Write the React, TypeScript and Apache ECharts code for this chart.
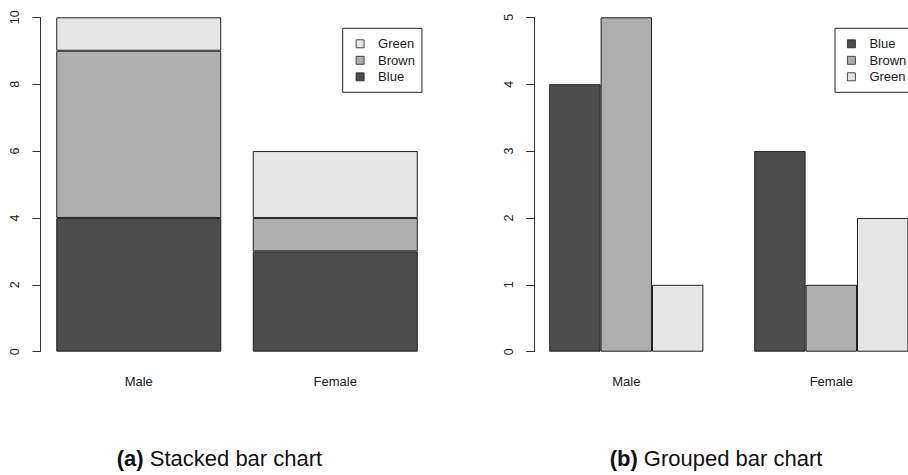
import React, { useEffect, useRef } from "react";
import * as echarts from "echarts";

// Eye colour by sex
const categories = ["Male", "Female"];
const blue = [4, 3];
const brown = [5, 1];
const green = [1, 2];

const stackedTicks = [0, 2, 4, 6, 8, 10];
const groupedTicks = [0, 1, 2, 3, 4, 5];

const colors = { Blue: "#4D4D4D", Brown: "#AEAEAE", Green: "#E6E6E6" };

const FONT = "Liberation Sans, Arial, sans-serif";

// The drawing surface is wider than the visible frame so the right-hand
// panel can run past the edge, as it does on the printed page.
const VIEW_W = 908;
const VIEW_H = 475;
const CANVAS_W = 960;

export default function App() {
  const ref = useRef<HTMLDivElement>(null);

  useEffect(() => {
    if (!ref.current) return;
    const chart = echarts.init(ref.current, null, { renderer: "svg" });

    const barStyle = (name: keyof typeof colors) => ({
      color: colors[name],
      borderColor: "#222",
      borderWidth: 1,
    });

    const yAxisCommon = (max: number, interval: number) => ({
      type: "value" as const,
      min: 0,
      max,
      interval,
      splitLine: { show: false },
      axisLine: { show: true, lineStyle: { color: "#333", width: 1 } },
      axisTick: { show: true, length: 8, lineStyle: { color: "#333" } },
      axisLabel: {
        rotate: 90,
        margin: 19,
        fontSize: 12.5,
        color: "#222",
        fontFamily: FONT,
      },
    });

    const xAxisCommon = {
      type: "category" as const,
      data: categories,
      axisLine: { show: false },
      axisTick: { show: false },
      axisLabel: { margin: 23, fontSize: 13, color: "#222", fontFamily: FONT },
    };

    const legendCommon = {
      orient: "vertical" as const,
      borderColor: "#222",
      borderWidth: 1,
      borderRadius: 0,
      itemWidth: 8,
      itemHeight: 8,
      itemGap: 2.5,
      icon: "rect",
      itemStyle: { borderColor: "#222", borderWidth: 0.8 },
      textStyle: {
        fontSize: 13,
        lineHeight: 14,
        color: "#222",
        fontFamily: FONT,
        padding: [0, 0, 0, 9],
      },
      selectedMode: false,
    };

    chart.setOption({
      animation: false,
      grid: [
        { left: 40.5, top: 17.3, width: 393, height: 334.4 },
        { left: 523.8, top: 17.3, width: 410, height: 334.4 },
      ],
      xAxis: [
        { ...xAxisCommon, gridIndex: 0 },
        { ...xAxisCommon, gridIndex: 1 },
      ],
      yAxis: [
        {
          ...yAxisCommon(stackedTicks[stackedTicks.length - 1], stackedTicks[1] - stackedTicks[0]),
          gridIndex: 0,
        },
        {
          ...yAxisCommon(groupedTicks[groupedTicks.length - 1], groupedTicks[1] - groupedTicks[0]),
          gridIndex: 1,
          offset: -10.5,
        },
      ],
      legend: [
        {
          ...legendCommon,
          left: 342.7,
          top: 28.3,
          padding: [8.5, 7, 8.5, 13],
          data: ["Green", "Brown", "Blue"],
        },
        {
          ...legendCommon,
          left: 835,
          top: 28.3,
          padding: [8.5, 6, 8.5, 12],
          data: ["Blue", "Brown", "Green"],
        },
      ],
      series: [
        // (a) stacked
        { name: "Blue", type: "bar", xAxisIndex: 0, yAxisIndex: 0, stack: "eyes", barWidth: 165, data: blue, itemStyle: barStyle("Blue") },
        { name: "Brown", type: "bar", xAxisIndex: 0, yAxisIndex: 0, stack: "eyes", barWidth: 165, data: brown, itemStyle: barStyle("Brown") },
        { name: "Green", type: "bar", xAxisIndex: 0, yAxisIndex: 0, stack: "eyes", barWidth: 165, data: green, itemStyle: barStyle("Green") },
        // (b) grouped
        { name: "Blue", type: "bar", xAxisIndex: 1, yAxisIndex: 1, barWidth: 51.4, barGap: "0%", data: blue, itemStyle: barStyle("Blue") },
        { name: "Brown", type: "bar", xAxisIndex: 1, yAxisIndex: 1, barWidth: 51.4, barGap: "0%", data: brown, itemStyle: barStyle("Brown") },
        { name: "Green", type: "bar", xAxisIndex: 1, yAxisIndex: 1, barWidth: 51.4, barGap: "0%", data: green, itemStyle: barStyle("Green") },
      ],
      graphic: [
        {
          type: "text",
          x: 219.5,
          y: 469.3,
          style: {
            text: "{b|(a)} Stacked bar chart",
            fontSize: 22,
            fontFamily: FONT,
            fill: "#111",
            align: "center",
            verticalAlign: "bottom",
            rich: { b: { fontWeight: "bold", fontSize: 22, fontFamily: FONT, fill: "#111" } },
          },
        },
        {
          type: "text",
          x: 716,
          y: 469.3,
          style: {
            text: "{b|(b)} Grouped bar chart",
            fontSize: 22,
            fontFamily: FONT,
            fill: "#111",
            align: "center",
            verticalAlign: "bottom",
            rich: { b: { fontWeight: "bold", fontSize: 22, fontFamily: FONT, fill: "#111" } },
          },
        },
      ],
    });

    return () => chart.dispose();
  }, []);

  return (
    <div
      style={{
        position: "absolute",
        left: 0,
        top: 0,
        width: VIEW_W,
        height: VIEW_H,
        overflow: "hidden",
        background: "#fff",
      }}
    >
      <div ref={ref} style={{ width: CANVAS_W, height: VIEW_H }} />
    </div>
  );
}
